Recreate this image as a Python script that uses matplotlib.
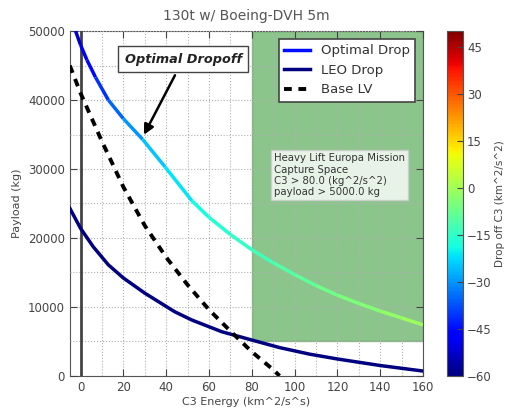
import numpy as np
import matplotlib
import matplotlib.pyplot as plt
from matplotlib.collections import LineCollection
from matplotlib.lines import Line2D
from matplotlib.patches import Rectangle

# values
opt_c3 = [-2.3, 0, 3, 7, 13, 20, 29, 39.5, 52, 60, 70, 80, 90, 100, 110, 120, 130, 140, 150, 160]
opt_payload = [50000, 48000, 45800, 43300, 40000, 37300, 34300, 30300, 25400, 23000, 20500,
               18300, 16400, 14700, 13100, 11700, 10500, 9400, 8400, 7400]
opt_dropoff = [-55, -50, -47, -44, -38, -33, -27, -23, -20, -18, -16,
               -14, -12, -10, -8, -6, -4.5, -3, -1.5, 0]

leo_c3 = [-5, 0, 6, 13, 20, 30, 44, 52, 66, 80, 93, 107, 120, 140, 160]
leo_payload = [24300, 21400, 18700, 16100, 14200, 12000, 9300, 8100, 6400, 5200, 4100,
               3150, 2450, 1500, 700]
leo_dropoff = -60

base_c3 = [-5, 0, 10, 20, 30, 40, 50, 60, 70, 80, 90, 93]
base_payload = [45000, 41000, 34000, 27400, 21800, 17200, 13200, 9600, 6500, 3500, 900, 0]

capture_c3_min = 80.0
capture_payload_min = 5000.0

cmin, cmax = -60, 50
cbar_ticks = [-60, -45, -30, -15, 0, 15, 30, 45]

plt.rcParams['font.family'] = 'DejaVu Sans'
tc = '#444444'

fig = plt.figure(figsize=(5.06, 4.09), dpi=100)
ax = fig.add_axes([0.138, 0.081, 0.698, 0.843])
cax = fig.add_axes([0.883, 0.081, 0.032, 0.843])

cmap = matplotlib.colormaps['jet']
norm = plt.Normalize(cmin, cmax)

# capture space
ax.add_patch(Rectangle((capture_c3_min, capture_payload_min), 160 - capture_c3_min,
                       50000 - capture_payload_min, facecolor='green', alpha=0.45,
                       edgecolor='#2f7f2f', lw=1, zorder=1))

ax.axvline(0, color='#444444', lw=2, zorder=3.5)

pts = np.column_stack([opt_c3, opt_payload]).reshape(-1, 1, 2)
segs = np.concatenate([pts[:-1], pts[1:]], axis=1)
seg_vals = (np.array(opt_dropoff[:-1]) + np.array(opt_dropoff[1:])) / 2
lc = LineCollection(segs, cmap=cmap, norm=norm, lw=2.5, zorder=4)
lc.set_array(seg_vals)
ax.add_collection(lc)

ax.plot(leo_c3, leo_payload, color=cmap(norm(leo_dropoff)), lw=2.5, zorder=4)
ax.plot(base_c3, base_payload, color='black', ls='--', dashes=(2, 1.7), lw=2.8, zorder=4)

ax.set_xlim(-5, 160)
ax.set_ylim(0, 50000)
ax.set_xticks(np.arange(0, 161, 20))
ax.set_xticks(np.arange(0, 161, 10), minor=True)
ax.set_yticks(np.arange(0, 50001, 10000))
ax.set_yticks(np.arange(0, 50001, 5000), minor=True)
ax.set_axisbelow(False)
ax.grid(True, which='both', color='#b0b0b0', ls=':', lw=0.8, zorder=3)
ax.tick_params(which='both', direction='in', top=True, right=True, labelsize=8.5, colors=tc)
ax.tick_params(which='major', length=5)
ax.tick_params(which='minor', length=0)
for s in ax.spines.values():
    s.set_color('#555555')

ax.set_title('130t w/ Boeing-DVH 5m', fontsize=10, color='#555555', pad=8)
ax.set_xlabel('C3 Energy (km^2/s^s)', fontsize=8, color=tc, labelpad=2)
ax.set_ylabel('Payload (kg)', fontsize=8, color=tc)

handles = [Line2D([], [], color=cmap(0.14), lw=2.5),
           Line2D([], [], color=cmap(0.0), lw=2.5),
           Line2D([], [], color='black', ls='--', dashes=(2, 1.7), lw=2.8)]
leg = ax.legend(handles, ['Optimal Drop', 'LEO Drop', 'Base LV'], loc='upper right',
                fontsize=9.5, fancybox=False, handlelength=2, borderaxespad=0.6,
                framealpha=1)
leg.get_frame().set_edgecolor('#444444')
leg.get_frame().set_linewidth(1.2)
for t in leg.get_texts():
    t.set_color('#333333')
leg.set_zorder(6)

ax.annotate('Optimal Dropoff', xy=(29, 34600), xytext=(48, 45900),
            fontsize=9.3, fontweight='bold', fontstyle='italic', ha='center', va='center',
            color='#222222', zorder=6,
            bbox=dict(boxstyle='square,pad=0.5', fc='white', ec='#444444', lw=1),
            arrowprops=dict(arrowstyle='-|>', color='black', lw=1.8, mutation_scale=15))

ax.text(0.578, 0.645, 'Heavy Lift Europa Mission\nCapture Space\nC3 > 80.0 (kg^2/s^2)\npayload > 5000.0 kg',
        transform=ax.transAxes, fontsize=7.3, color='#333333', va='top', ha='left',
        linespacing=1.15, zorder=6,
        bbox=dict(boxstyle='square,pad=0.3', fc='white', ec='#cccccc', alpha=0.8))

sm = plt.cm.ScalarMappable(cmap=cmap, norm=norm)
cb = fig.colorbar(sm, cax=cax, ticks=cbar_ticks)
cb.ax.tick_params(labelsize=8.5, colors=tc, direction='in', length=4, pad=3)
cb.outline.set_edgecolor('#555555')
cb.set_label('Drop off C3 (km^2/s^2)', fontsize=7.5, color=tc, labelpad=2)

fig.savefig('out.png', dpi=100)
